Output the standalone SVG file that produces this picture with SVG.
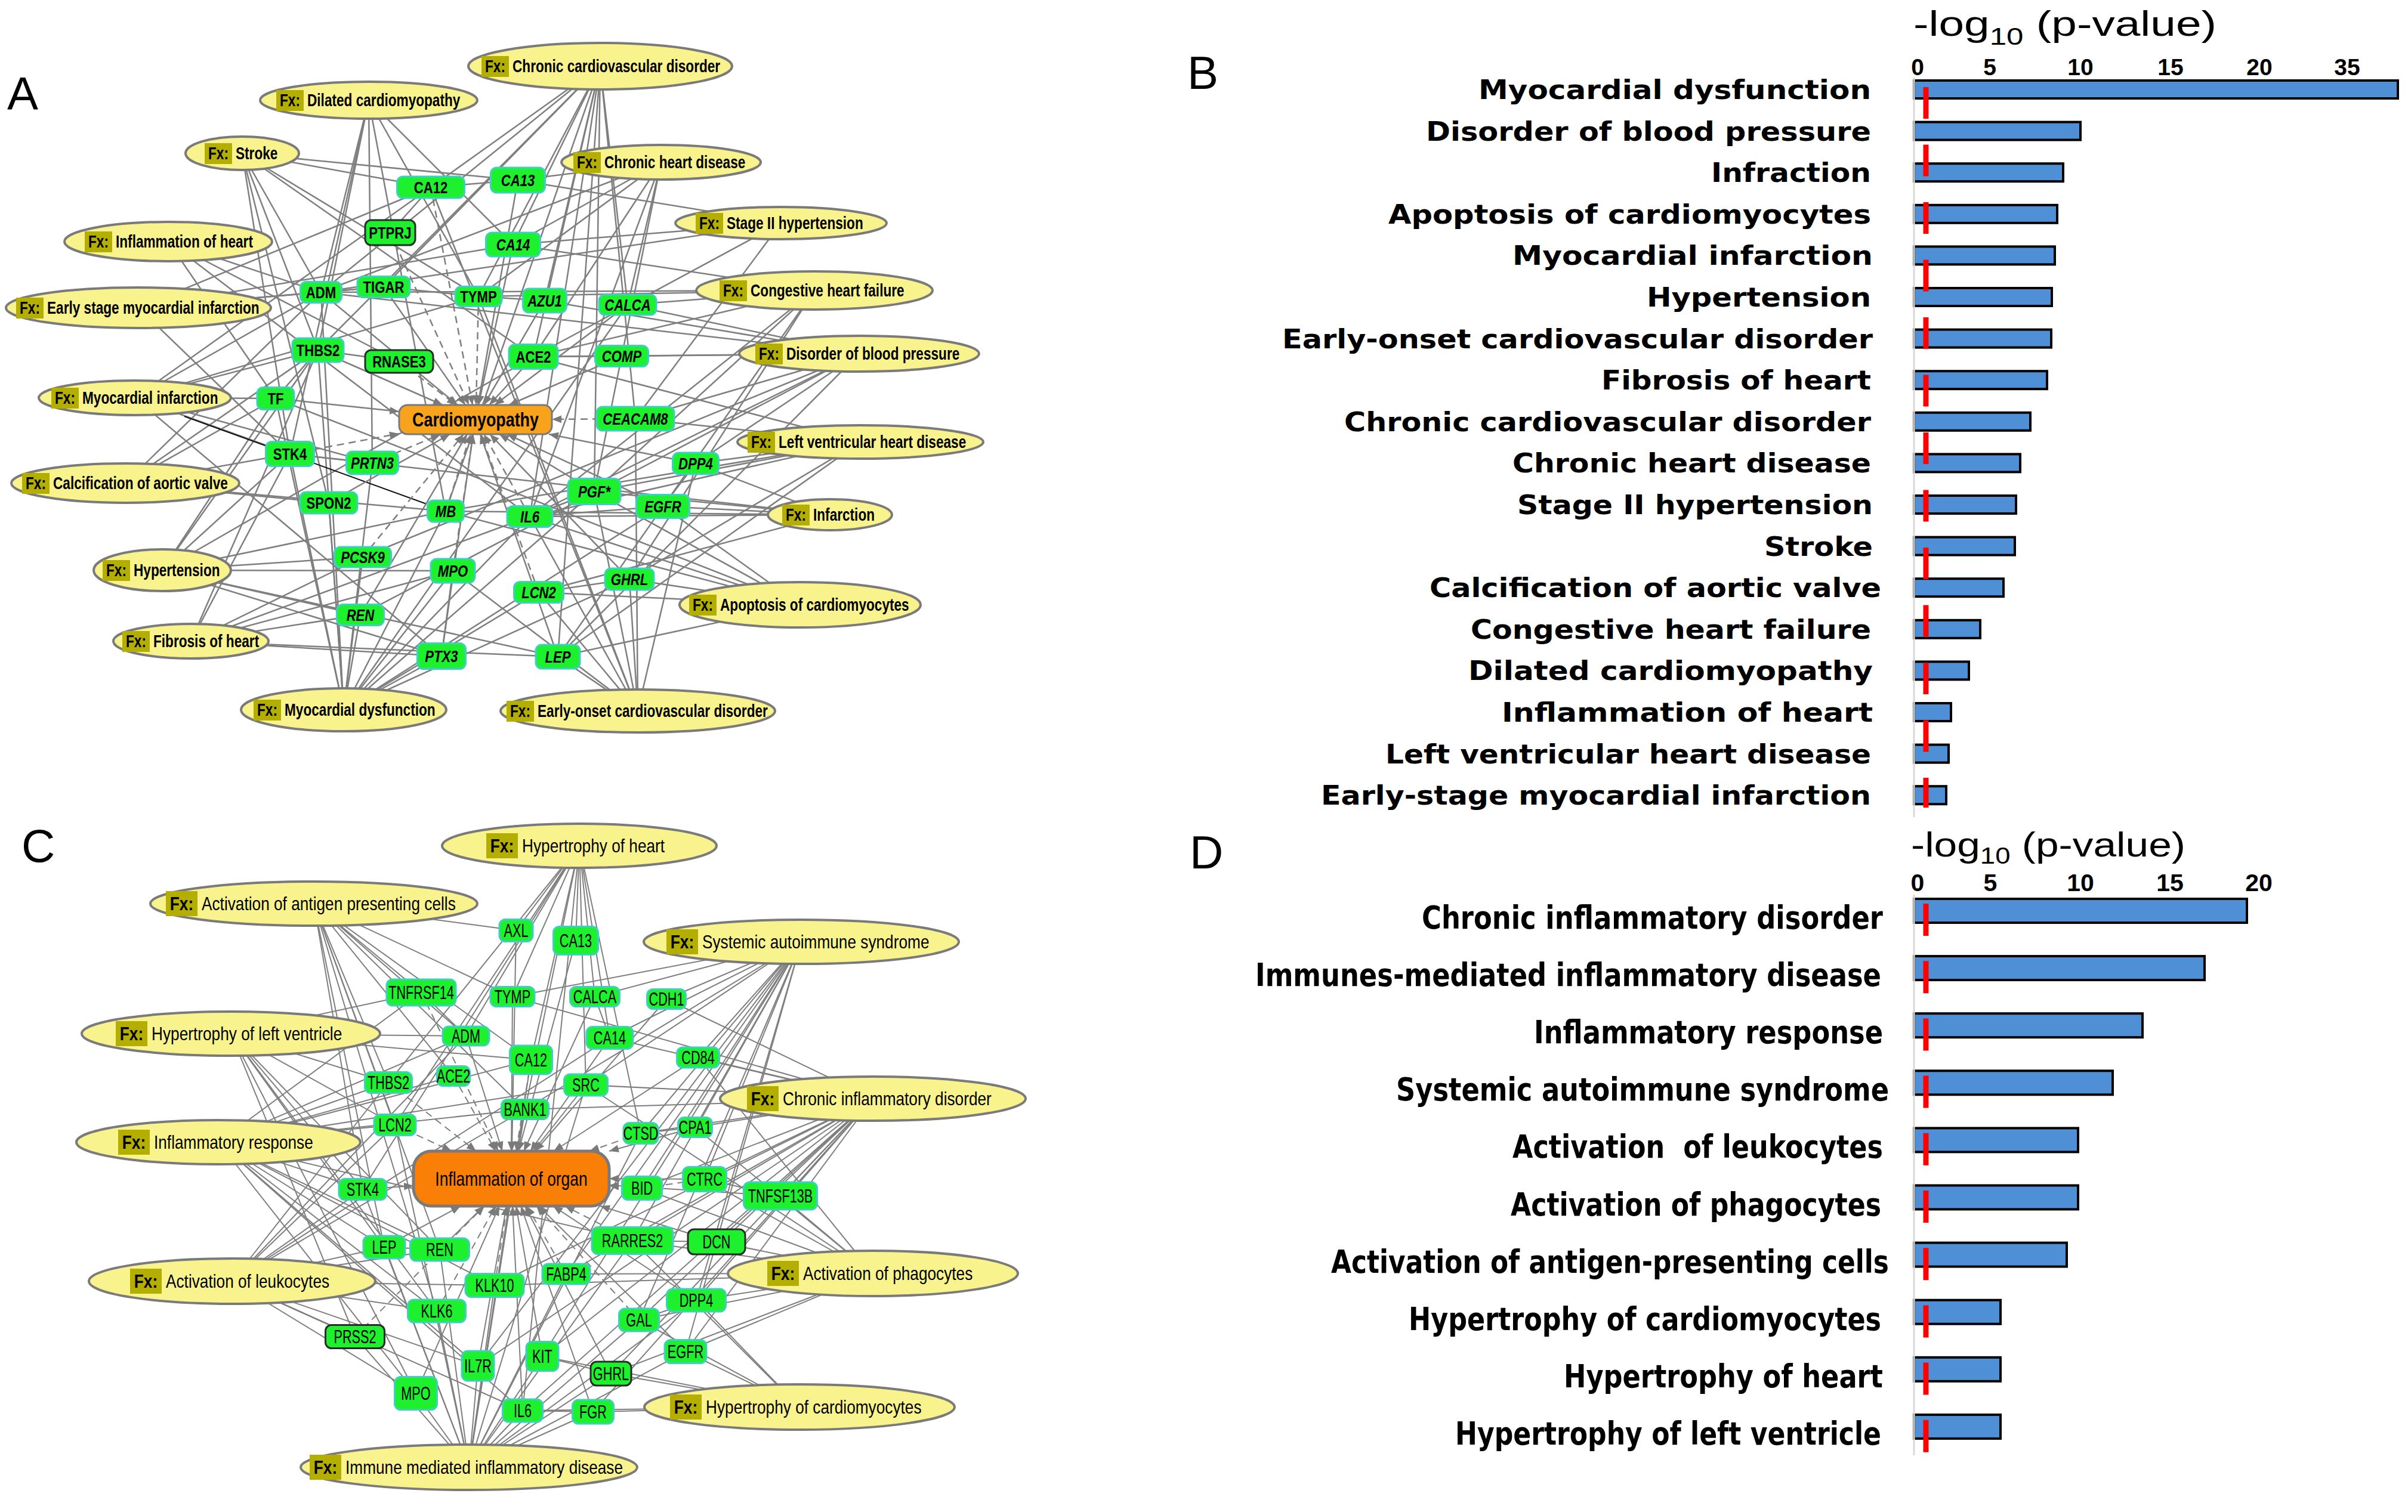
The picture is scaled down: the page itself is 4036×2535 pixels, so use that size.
<svg xmlns="http://www.w3.org/2000/svg" width="4036" height="2535" viewBox="0 0 4036 2535">
<style>
.ln line{stroke:#7f7f7f;stroke-width:2.5;fill:none}
.lc line{stroke:#7f7f7f;stroke-width:2;fill:none}
line.d{stroke-dasharray:12 8}
line.ar{marker-end:url(#ah)}
.fn ellipse{fill:#f8f38c;stroke:#7a7a7a;stroke-width:4}
.fx{fill:#b4ae00}
.gn rect{fill:#1df02d;stroke:#3fd0c0;stroke-width:3}
.gn rect.dk{stroke:#2a2a2a}
.ca rect{fill:#f9a31c;stroke:#7a7a7a;stroke-width:3}
.cc rect{fill:#f97f07;stroke:#7a7a7a;stroke-width:5}
text{font-family:'Liberation Sans',Arial,sans-serif;fill:#000}
text.a{font-weight:bold;font-size:28px;text-anchor:middle}
text.i{font-style:italic}
text.fa{font-weight:bold;font-size:29px}
text.xa{font-weight:bold;font-size:29px;text-anchor:middle}
text.c{font-size:31px;text-anchor:middle}
text.fc{font-size:32px}
text.xc{font-weight:bold;font-size:32px;text-anchor:middle}
text.ct{font-weight:bold;font-size:34px;text-anchor:middle}
text.co{font-size:33px;text-anchor:middle}
.bar{fill:#4e8fd6;stroke:#000;stroke-width:4}
text.lb{font-family:'DejaVu Sans',sans-serif;font-weight:bold;font-size:45px}
text.ld{font-family:'DejaVu Sans',sans-serif;font-weight:bold;font-size:54px}
text.tk{font-weight:bold;font-size:39px;text-anchor:middle}
text.tt{font-size:60px}
text.pl{font-size:78px}
.ax{stroke:#d9d9d9;stroke-width:3}
.rd{stroke:#ff0000;stroke-width:9}
</style>
<defs>
<marker id="ah" viewBox="0 0 10 10" refX="10" refY="5" markerWidth="16" markerHeight="16" markerUnits="userSpaceOnUse" orient="auto"><path d="M0,1 L10,5 L0,9 z" fill="#7a7a7a"/></marker>
</defs>
<rect width="4036" height="2535" fill="#fff"/>

<!-- ================= PANEL A ================= -->
<g id="panel-A">
<text class="pl" x="12" y="184">A</text>
<g id="A-connectors" class="ln">
<line x1="1006" y1="111" x2="722" y2="314"/><line x1="1006" y1="111" x2="860" y2="410"/><line x1="1006" y1="111" x2="802" y2="497"/><line x1="1006" y1="111" x2="913" y2="504"/><line x1="1006" y1="111" x2="1052" y2="511"/><line x1="1006" y1="111" x2="894" y2="598"/><line x1="1006" y1="111" x2="538" y2="490"/><line x1="1006" y1="111" x2="888" y2="866"/><line x1="1006" y1="111" x2="935" y2="1101"/><line x1="1006" y1="111" x2="996" y2="824"/><line x1="1006" y1="111" x2="1065" y2="702"/><line x1="1006" y1="111" x2="747" y2="857"/><line x1="1006" y1="111" x2="643" y2="481"/><line x1="1006" y1="111" x2="533" y2="587"/>
<line x1="618" y1="168" x2="538" y2="490"/><line x1="618" y1="168" x2="533" y2="587"/><line x1="618" y1="168" x2="486" y2="761"/><line x1="618" y1="168" x2="802" y2="497"/><line x1="618" y1="168" x2="860" y2="410"/><line x1="618" y1="168" x2="747" y2="857"/><line x1="618" y1="168" x2="624" y2="776"/>
<line x1="406" y1="257" x2="722" y2="314"/><line x1="406" y1="257" x2="868" y2="302"/><line x1="406" y1="257" x2="802" y2="497"/><line x1="406" y1="257" x2="538" y2="490"/><line x1="406" y1="257" x2="533" y2="587"/><line x1="406" y1="257" x2="486" y2="761"/><line x1="406" y1="257" x2="551" y2="843"/><line x1="406" y1="257" x2="894" y2="598"/>
<line x1="1108" y1="272" x2="868" y2="302"/><line x1="1108" y1="272" x2="860" y2="410"/><line x1="1108" y1="272" x2="894" y2="598"/><line x1="1108" y1="272" x2="1052" y2="511"/><line x1="1108" y1="272" x2="802" y2="497"/><line x1="1108" y1="272" x2="888" y2="866"/><line x1="1108" y1="272" x2="996" y2="824"/><line x1="1108" y1="272" x2="538" y2="490"/>
<line x1="1309" y1="374" x2="868" y2="302"/><line x1="1309" y1="374" x2="860" y2="410"/><line x1="1309" y1="374" x2="894" y2="598"/><line x1="1309" y1="374" x2="538" y2="490"/><line x1="1309" y1="374" x2="1065" y2="702"/>
<line x1="282" y1="405" x2="538" y2="490"/><line x1="282" y1="405" x2="669" y2="606"/><line x1="282" y1="405" x2="888" y2="866"/><line x1="282" y1="405" x2="462" y2="668"/>
<line x1="1365" y1="487" x2="802" y2="497"/><line x1="1365" y1="487" x2="860" y2="410"/><line x1="1365" y1="487" x2="888" y2="866"/><line x1="1365" y1="487" x2="538" y2="490"/><line x1="1365" y1="487" x2="935" y2="1101"/><line x1="1365" y1="487" x2="1052" y2="511"/><line x1="1365" y1="487" x2="894" y2="598"/><line x1="1365" y1="487" x2="996" y2="824"/><line x1="1365" y1="487" x2="1055" y2="971"/>
<line x1="232" y1="516" x2="538" y2="490"/><line x1="232" y1="516" x2="722" y2="314"/><line x1="232" y1="516" x2="643" y2="481"/><line x1="232" y1="516" x2="486" y2="761"/><line x1="232" y1="516" x2="860" y2="410"/>
<line x1="1440" y1="593" x2="1042" y2="597"/><line x1="1440" y1="593" x2="1052" y2="511"/><line x1="1440" y1="593" x2="894" y2="598"/><line x1="1440" y1="593" x2="1065" y2="702"/><line x1="1440" y1="593" x2="604" y2="1031"/><line x1="1440" y1="593" x2="935" y2="1101"/><line x1="1440" y1="593" x2="608" y2="934"/><line x1="1440" y1="593" x2="538" y2="490"/><line x1="1440" y1="593" x2="1166" y2="777"/><line x1="1440" y1="593" x2="913" y2="504"/><line x1="1440" y1="593" x2="888" y2="866"/>
<line x1="226" y1="667" x2="462" y2="668"/><line x1="226" y1="667" x2="486" y2="761"/><line x1="226" y1="667" x2="533" y2="587"/><line x1="226" y1="667" x2="538" y2="490"/><line x1="226" y1="667" x2="740" y2="1100"/><line x1="226" y1="667" x2="802" y2="497"/><line x1="226" y1="667" x2="722" y2="314"/><line x1="226" y1="667" x2="624" y2="776"/>
<line x1="1442" y1="741" x2="1065" y2="702"/><line x1="1442" y1="741" x2="1166" y2="777"/><line x1="1442" y1="741" x2="888" y2="866"/><line x1="1442" y1="741" x2="894" y2="598"/><line x1="1442" y1="741" x2="996" y2="824"/><line x1="1442" y1="741" x2="747" y2="857"/><line x1="1442" y1="741" x2="935" y2="1101"/><line x1="1442" y1="741" x2="1055" y2="971"/>
<line x1="210" y1="810" x2="486" y2="761"/><line x1="210" y1="810" x2="551" y2="843"/><line x1="210" y1="810" x2="747" y2="857"/><line x1="210" y1="810" x2="533" y2="587"/><line x1="210" y1="810" x2="538" y2="490"/><line x1="210" y1="810" x2="462" y2="668"/>
<line x1="1391" y1="863" x2="1111" y2="849"/><line x1="1391" y1="863" x2="1166" y2="777"/><line x1="1391" y1="863" x2="888" y2="866"/><line x1="1391" y1="863" x2="996" y2="824"/><line x1="1391" y1="863" x2="747" y2="857"/><line x1="1391" y1="863" x2="903" y2="993"/><line x1="1391" y1="863" x2="486" y2="761"/>
<line x1="272" y1="956" x2="608" y2="934"/><line x1="272" y1="956" x2="759" y2="957"/><line x1="272" y1="956" x2="604" y2="1031"/><line x1="272" y1="956" x2="747" y2="857"/><line x1="272" y1="956" x2="935" y2="1101"/><line x1="272" y1="956" x2="894" y2="598"/><line x1="272" y1="956" x2="740" y2="1100"/><line x1="272" y1="956" x2="486" y2="761"/><line x1="272" y1="956" x2="533" y2="587"/><line x1="272" y1="956" x2="462" y2="668"/>
<line x1="1341" y1="1014" x2="1055" y2="971"/><line x1="1341" y1="1014" x2="903" y2="993"/><line x1="1341" y1="1014" x2="888" y2="866"/><line x1="1341" y1="1014" x2="1111" y2="849"/><line x1="1341" y1="1014" x2="996" y2="824"/><line x1="1341" y1="1014" x2="935" y2="1101"/><line x1="1341" y1="1014" x2="747" y2="857"/><line x1="1341" y1="1014" x2="462" y2="668"/>
<line x1="320" y1="1075" x2="604" y2="1031"/><line x1="320" y1="1075" x2="740" y2="1100"/><line x1="320" y1="1075" x2="759" y2="957"/><line x1="320" y1="1075" x2="935" y2="1101"/><line x1="320" y1="1075" x2="608" y2="934"/><line x1="320" y1="1075" x2="486" y2="761"/><line x1="320" y1="1075" x2="533" y2="587"/><line x1="320" y1="1075" x2="888" y2="866"/>
<line x1="576" y1="1190" x2="538" y2="490"/><line x1="576" y1="1190" x2="533" y2="587"/><line x1="576" y1="1190" x2="486" y2="761"/><line x1="576" y1="1190" x2="551" y2="843"/><line x1="576" y1="1190" x2="608" y2="934"/><line x1="576" y1="1190" x2="604" y2="1031"/><line x1="576" y1="1190" x2="759" y2="957"/><line x1="576" y1="1190" x2="740" y2="1100"/><line x1="576" y1="1190" x2="747" y2="857"/><line x1="576" y1="1190" x2="888" y2="866"/><line x1="576" y1="1190" x2="996" y2="824"/><line x1="576" y1="1190" x2="903" y2="993"/><line x1="576" y1="1190" x2="462" y2="668"/><line x1="576" y1="1190" x2="1052" y2="511"/><line x1="576" y1="1190" x2="1055" y2="971"/><line x1="576" y1="1190" x2="1111" y2="849"/><line x1="576" y1="1190" x2="624" y2="776"/>
<line x1="1069" y1="1192" x2="935" y2="1101"/><line x1="1069" y1="1192" x2="1055" y2="971"/><line x1="1069" y1="1192" x2="888" y2="866"/><line x1="1069" y1="1192" x2="903" y2="993"/><line x1="1069" y1="1192" x2="996" y2="824"/><line x1="1069" y1="1192" x2="759" y2="957"/><line x1="1069" y1="1192" x2="722" y2="314"/><line x1="1069" y1="1192" x2="1166" y2="777"/><line x1="1069" y1="1192" x2="802" y2="497"/><line x1="1069" y1="1192" x2="1065" y2="702"/>
<line x1="722" y1="314" x2="868" y2="302"/><line x1="538" y1="490" x2="643" y2="481"/><line x1="643" y1="481" x2="802" y2="497"/><line x1="894" y1="598" x2="1042" y2="597"/><line x1="533" y1="587" x2="669" y2="606"/><line x1="888" y1="866" x2="1111" y2="849"/><line x1="888" y1="866" x2="996" y2="824"/><line x1="486" y1="761" x2="624" y2="776"/><line x1="740" y1="1100" x2="759" y2="957"/><line x1="903" y1="993" x2="1055" y2="971"/><line x1="462" y1="668" x2="533" y2="587"/><line x1="1166" y1="777" x2="1111" y2="849"/><line x1="722" y1="314" x2="654" y2="390"/><line x1="802" y1="497" x2="913" y2="504"/>
<line x1="309" y1="698" x2="715" y2="845" style="stroke:#111;stroke-width:2"/>
<line class="ar d" x1="722" y1="314" x2="792" y2="679"/><line class="ar" x1="868" y1="302" x2="801" y2="679"/><line class="ar" x1="860" y1="410" x2="802" y2="679"/><line class="ar d" x1="654" y1="390" x2="786" y2="679"/><line class="ar" x1="538" y1="490" x2="767" y2="679"/><line class="ar" x1="643" y1="481" x2="780" y2="679"/><line class="ar d" x1="802" y1="497" x2="798" y2="679"/><line class="ar" x1="913" y1="504" x2="811" y2="679"/><line class="ar" x1="1052" y1="511" x2="829" y2="679"/><line class="ar" x1="533" y1="587" x2="742" y2="679"/><line class="ar d" x1="669" y1="606" x2="765" y2="679"/><line class="ar" x1="894" y1="598" x2="820" y2="679"/><line class="ar" x1="1042" y1="597" x2="853" y2="679"/><line class="ar" x1="462" y1="668" x2="669" y2="690"/><line class="ar d" x1="486" y1="761" x2="669" y2="727"/><line class="ar d" x1="624" y1="776" x2="739" y2="728"/><line class="ar" x1="551" y1="843" x2="754" y2="728"/><line class="ar d" x1="747" y1="857" x2="789" y2="728"/><line class="ar d" x1="608" y1="934" x2="777" y2="728"/><line class="ar d" x1="759" y1="957" x2="793" y2="728"/><line class="ar" x1="604" y1="1031" x2="783" y2="728"/><line class="ar" x1="740" y1="1100" x2="793" y2="728"/><line class="ar d" x1="1065" y1="702" x2="925" y2="703"/><line class="ar" x1="1166" y1="777" x2="920" y2="728"/><line class="ar" x1="996" y1="824" x2="837" y2="728"/><line class="ar" x1="1111" y1="849" x2="850" y2="728"/><line class="ar d" x1="888" y1="866" x2="811" y2="728"/><line class="ar" x1="1055" y1="971" x2="821" y2="728"/><line class="ar d" x1="903" y1="993" x2="806" y2="728"/><line class="ar" x1="935" y1="1101" x2="805" y2="728"/>
</g>
<g id="A-functions">
<g id="A-fn-ccd" class="fn"><ellipse cx="1006" cy="111" rx="221" ry="39"/><rect class="fx" x="807" y="94" width="46" height="35"/><text class="xa" transform="translate(830 121) scale(.78 1)">Fx:</text><text class="fa" transform="translate(859 121) scale(.78 1)">Chronic cardiovascular disorder</text></g>
<g id="A-fn-dc" class="fn"><ellipse cx="618" cy="168" rx="182" ry="31"/><rect class="fx" x="463" y="151" width="46" height="35"/><text class="xa" transform="translate(486 178) scale(.78 1)">Fx:</text><text class="fa" transform="translate(515 178) scale(.78 1)">Dilated cardiomyopathy</text></g>
<g id="A-fn-stroke" class="fn"><ellipse cx="406" cy="257" rx="95" ry="28"/><rect class="fx" x="343" y="240" width="46" height="35"/><text class="xa" transform="translate(366 267) scale(.78 1)">Fx:</text><text class="fa" transform="translate(395 267) scale(.78 1)">Stroke</text></g>
<g id="A-fn-chd" class="fn"><ellipse cx="1108" cy="272" rx="167" ry="29"/><rect class="fx" x="961" y="255" width="46" height="35"/><text class="xa" transform="translate(984 282) scale(.78 1)">Fx:</text><text class="fa" transform="translate(1013 282) scale(.78 1)">Chronic heart disease</text></g>
<g id="A-fn-s2" class="fn"><ellipse cx="1309" cy="374" rx="177" ry="27"/><rect class="fx" x="1166" y="357" width="46" height="35"/><text class="xa" transform="translate(1189 384) scale(.78 1)">Fx:</text><text class="fa" transform="translate(1218 384) scale(.78 1)">Stage II hypertension</text></g>
<g id="A-fn-ih" class="fn"><ellipse cx="282" cy="405" rx="174" ry="33"/><rect class="fx" x="142" y="388" width="46" height="35"/><text class="xa" transform="translate(165 415) scale(.78 1)">Fx:</text><text class="fa" transform="translate(194 415) scale(.78 1)">Inflammation of heart</text></g>
<g id="A-fn-chf" class="fn"><ellipse cx="1365" cy="487" rx="198" ry="32"/><rect class="fx" x="1206" y="470" width="46" height="35"/><text class="xa" transform="translate(1229 497) scale(.78 1)">Fx:</text><text class="fa" transform="translate(1258 497) scale(.78 1)">Congestive heart failure</text></g>
<g id="A-fn-esmi" class="fn"><ellipse cx="232" cy="516" rx="222" ry="34"/><rect class="fx" x="27" y="499" width="46" height="35"/><text class="xa" transform="translate(50 526) scale(.78 1)">Fx:</text><text class="fa" transform="translate(79 526) scale(.78 1)">Early stage myocardial infarction</text></g>
<g id="A-fn-dbp" class="fn"><ellipse cx="1440" cy="593" rx="201" ry="30"/><rect class="fx" x="1266" y="576" width="46" height="35"/><text class="xa" transform="translate(1289 603) scale(.78 1)">Fx:</text><text class="fa" transform="translate(1318 603) scale(.78 1)">Disorder of blood pressure</text></g>
<g id="A-fn-mi" class="fn"><ellipse cx="226" cy="667" rx="161" ry="29"/><rect class="fx" x="86" y="650" width="46" height="35"/><text class="xa" transform="translate(109 677) scale(.78 1)">Fx:</text><text class="fa" transform="translate(138 677) scale(.78 1)">Myocardial infarction</text></g>
<g id="A-fn-lvhd" class="fn"><ellipse cx="1442" cy="741" rx="206" ry="28"/><rect class="fx" x="1253" y="724" width="46" height="35"/><text class="xa" transform="translate(1276 751) scale(.78 1)">Fx:</text><text class="fa" transform="translate(1305 751) scale(.78 1)">Left ventricular heart disease</text></g>
<g id="A-fn-cav" class="fn"><ellipse cx="210" cy="810" rx="191" ry="33"/><rect class="fx" x="37" y="793" width="46" height="35"/><text class="xa" transform="translate(60 820) scale(.78 1)">Fx:</text><text class="fa" transform="translate(89 820) scale(.78 1)">Calcification of aortic valve</text></g>
<g id="A-fn-inf" class="fn"><ellipse cx="1391" cy="863" rx="104" ry="26"/><rect class="fx" x="1311" y="846" width="46" height="35"/><text class="xa" transform="translate(1334 873) scale(.78 1)">Fx:</text><text class="fa" transform="translate(1363 873) scale(.78 1)">Infarction</text></g>
<g id="A-fn-ht" class="fn"><ellipse cx="272" cy="956" rx="115" ry="35"/><rect class="fx" x="172" y="939" width="46" height="35"/><text class="xa" transform="translate(195 966) scale(.78 1)">Fx:</text><text class="fa" transform="translate(224 966) scale(.78 1)">Hypertension</text></g>
<g id="A-fn-ac" class="fn"><ellipse cx="1341" cy="1014" rx="202" ry="38"/><rect class="fx" x="1155" y="997" width="46" height="35"/><text class="xa" transform="translate(1178 1024) scale(.78 1)">Fx:</text><text class="fa" transform="translate(1207 1024) scale(.78 1)">Apoptosis of cardiomyocytes</text></g>
<g id="A-fn-fh" class="fn"><ellipse cx="320" cy="1075" rx="130" ry="29"/><rect class="fx" x="205" y="1058" width="46" height="35"/><text class="xa" transform="translate(228 1085) scale(.78 1)">Fx:</text><text class="fa" transform="translate(257 1085) scale(.78 1)">Fibrosis of heart</text></g>
<g id="A-fn-md" class="fn"><ellipse cx="576" cy="1190" rx="172" ry="36"/><rect class="fx" x="425" y="1173" width="46" height="35"/><text class="xa" transform="translate(448 1200) scale(.78 1)">Fx:</text><text class="fa" transform="translate(477 1200) scale(.78 1)">Myocardial dysfunction</text></g>
<g id="A-fn-eocd" class="fn"><ellipse cx="1069" cy="1192" rx="230" ry="36"/><rect class="fx" x="849" y="1175" width="46" height="35"/><text class="xa" transform="translate(872 1202) scale(.78 1)">Fx:</text><text class="fa" transform="translate(901 1202) scale(.78 1)">Early-onset cardiovascular disorder</text></g>
</g>
<g id="A-genes">
<g id="A-CA12" class="gn"><rect x="665.5" y="296" width="113" height="36" rx="10"/><text class="a" transform="translate(722 324) scale(.79 1)">CA12</text></g>
<g id="A-CA13" class="gn"><rect x="822.5" y="281" width="91" height="42" rx="10"/><text class="a i" transform="translate(868 312) scale(.79 1)">CA13</text></g>
<g id="A-CA14" class="gn"><rect x="814.5" y="390" width="91" height="40" rx="10"/><text class="a i" transform="translate(860 420) scale(.79 1)">CA14</text></g>
<g id="A-PTPRJ" class="gn"><rect class="dk" x="612" y="369" width="84" height="42" rx="10"/><text class="a" transform="translate(654 400) scale(.79 1)">PTPRJ</text></g>
<g id="A-ADM" class="gn"><rect x="503.5" y="472.5" width="69" height="35" rx="10"/><text class="a" transform="translate(538 500) scale(.79 1)">ADM</text></g>
<g id="A-TIGAR" class="gn"><rect x="599" y="463.5" width="88" height="35" rx="10"/><text class="a" transform="translate(643 491) scale(.79 1)">TIGAR</text></g>
<g id="A-TYMP" class="gn"><rect x="763" y="480.5" width="78" height="33" rx="10"/><text class="a" transform="translate(802 507) scale(.79 1)">TYMP</text></g>
<g id="A-AZU1" class="gn"><rect x="876.5" y="484" width="73" height="40" rx="10"/><text class="a i" transform="translate(913 514) scale(.79 1)">AZU1</text></g>
<g id="A-CALCA" class="gn"><rect x="1004" y="494" width="96" height="34" rx="10"/><text class="a i" transform="translate(1052 521) scale(.79 1)">CALCA</text></g>
<g id="A-THBS2" class="gn"><rect x="490" y="567" width="86" height="40" rx="10"/><text class="a" transform="translate(533 597) scale(.79 1)">THBS2</text></g>
<g id="A-RNASE3" class="gn"><rect class="dk" x="612" y="587" width="114" height="38" rx="10"/><text class="a" transform="translate(669 616) scale(.79 1)">RNASE3</text></g>
<g id="A-ACE2" class="gn"><rect x="853" y="577.5" width="82" height="41" rx="10"/><text class="a" transform="translate(894 608) scale(.79 1)">ACE2</text></g>
<g id="A-COMP" class="gn"><rect x="997.5" y="579.5" width="89" height="35" rx="10"/><text class="a i" transform="translate(1042 607) scale(.79 1)">COMP</text></g>
<g id="A-TF" class="gn"><rect x="431" y="649.5" width="62" height="37" rx="10"/><text class="a" transform="translate(462 678) scale(.79 1)">TF</text></g>
<g id="A-STK4" class="gn"><rect x="445.5" y="740.5" width="81" height="41" rx="10"/><text class="a" transform="translate(486 771) scale(.79 1)">STK4</text></g>
<g id="A-PRTN3" class="gn"><rect x="580.5" y="757" width="87" height="38" rx="10"/><text class="a i" transform="translate(624 786) scale(.79 1)">PRTN3</text></g>
<g id="A-SPON2" class="gn"><rect x="503" y="825" width="96" height="36" rx="10"/><text class="a" transform="translate(551 853) scale(.79 1)">SPON2</text></g>
<g id="A-MB" class="gn"><rect x="716.5" y="839" width="61" height="36" rx="10"/><text class="a i" transform="translate(747 867) scale(.79 1)">MB</text></g>
<g id="A-PCSK9" class="gn"><rect x="560.5" y="917" width="95" height="34" rx="10"/><text class="a i" transform="translate(608 944) scale(.79 1)">PCSK9</text></g>
<g id="A-MPO" class="gn"><rect x="722" y="937" width="74" height="40" rx="10"/><text class="a i" transform="translate(759 967) scale(.79 1)">MPO</text></g>
<g id="A-REN" class="gn"><rect x="564.5" y="1013.5" width="79" height="35" rx="10"/><text class="a i" transform="translate(604 1041) scale(.79 1)">REN</text></g>
<g id="A-PTX3" class="gn"><rect x="699.5" y="1078.5" width="81" height="43" rx="10"/><text class="a i" transform="translate(740 1110) scale(.79 1)">PTX3</text></g>
<g id="A-CEACAM8" class="gn"><rect x="1000" y="682" width="130" height="40" rx="10"/><text class="a i" transform="translate(1065 712) scale(.79 1)">CEACAM8</text></g>
<g id="A-DPP4" class="gn"><rect x="1127.5" y="759" width="77" height="36" rx="10"/><text class="a i" transform="translate(1166 787) scale(.79 1)">DPP4</text></g>
<g id="A-PGF" class="gn"><rect x="952" y="802.5" width="88" height="43" rx="10"/><text class="a i" transform="translate(996 834) scale(.79 1)">PGF*</text></g>
<g id="A-EGFR" class="gn"><rect x="1066.5" y="829.5" width="89" height="39" rx="10"/><text class="a i" transform="translate(1111 859) scale(.79 1)">EGFR</text></g>
<g id="A-IL6" class="gn"><rect x="850" y="848.5" width="76" height="35" rx="10"/><text class="a i" transform="translate(888 876) scale(.79 1)">IL6</text></g>
<g id="A-GHRL" class="gn"><rect x="1014" y="953" width="82" height="36" rx="10"/><text class="a i" transform="translate(1055 981) scale(.79 1)">GHRL</text></g>
<g id="A-LCN2" class="gn"><rect x="861.5" y="975.5" width="83" height="35" rx="10"/><text class="a i" transform="translate(903 1003) scale(.79 1)">LCN2</text></g>
<g id="A-LEP" class="gn"><rect x="898" y="1081" width="74" height="40" rx="10"/><text class="a i" transform="translate(935 1111) scale(.79 1)">LEP</text></g>
</g>
<g id="A-Cardiomyopathy" class="ca"><rect x="669" y="679" width="256" height="49" rx="14"/><text class="ct" transform="translate(797 715) scale(.79 1)">Cardiomyopathy</text></g>
</g>

<!-- ================= PANEL C ================= -->
<g id="panel-C">
<text class="pl" x="36" y="1445">C</text>
<g id="C-connectors" class="lc">
<line x1="971" y1="1418" x2="865" y2="1560"/><line x1="971" y1="1418" x2="965" y2="1577"/><line x1="971" y1="1418" x2="997" y2="1671"/><line x1="971" y1="1418" x2="1022" y2="1740"/><line x1="971" y1="1418" x2="859" y2="1671"/><line x1="971" y1="1418" x2="781" y2="1737"/><line x1="971" y1="1418" x2="890" y2="1777"/><line x1="971" y1="1418" x2="982" y2="1819"/><line x1="971" y1="1418" x2="880" y2="1860"/><line x1="971" y1="1418" x2="608" y2="1994"/><line x1="971" y1="1418" x2="662" y2="1886"/><line x1="971" y1="1418" x2="651" y2="1815"/><line x1="971" y1="1418" x2="1074" y2="1900"/><line x1="971" y1="1418" x2="876" y2="2365"/>
<line x1="526" y1="1515" x2="865" y2="1560"/><line x1="526" y1="1515" x2="706" y2="1664"/><line x1="526" y1="1515" x2="859" y2="1671"/><line x1="526" y1="1515" x2="781" y2="1737"/><line x1="526" y1="1515" x2="651" y2="1815"/><line x1="526" y1="1515" x2="760" y2="1804"/><line x1="526" y1="1515" x2="662" y2="1886"/><line x1="526" y1="1515" x2="608" y2="1994"/><line x1="526" y1="1515" x2="644" y2="2091"/><line x1="526" y1="1515" x2="737" y2="2095"/><line x1="526" y1="1515" x2="732" y2="2198"/><line x1="526" y1="1515" x2="890" y2="1777"/><line x1="526" y1="1515" x2="880" y2="1860"/>
<line x1="1343" y1="1579" x2="859" y2="1671"/><line x1="1343" y1="1579" x2="997" y2="1671"/><line x1="1343" y1="1579" x2="1117" y2="1675"/><line x1="1343" y1="1579" x2="1022" y2="1740"/><line x1="1343" y1="1579" x2="1170" y2="1773"/><line x1="1343" y1="1579" x2="982" y2="1819"/><line x1="1343" y1="1579" x2="1074" y2="1900"/><line x1="1343" y1="1579" x2="1165" y2="1890"/><line x1="1343" y1="1579" x2="1076" y2="1992"/><line x1="1343" y1="1579" x2="1181" y2="1977"/><line x1="1343" y1="1579" x2="1060" y2="2080"/><line x1="1343" y1="1579" x2="949" y2="2136"/><line x1="1343" y1="1579" x2="1167" y2="2180"/><line x1="1343" y1="1579" x2="1071" y2="2213"/><line x1="1343" y1="1579" x2="1149" y2="2266"/><line x1="1343" y1="1579" x2="801" y2="2290"/><line x1="1343" y1="1579" x2="909" y2="2274"/><line x1="1343" y1="1579" x2="880" y2="1860"/>
<line x1="387" y1="1733" x2="706" y2="1664"/><line x1="387" y1="1733" x2="781" y2="1737"/><line x1="387" y1="1733" x2="651" y2="1815"/><line x1="387" y1="1733" x2="662" y2="1886"/><line x1="387" y1="1733" x2="608" y2="1994"/><line x1="387" y1="1733" x2="644" y2="2091"/><line x1="387" y1="1733" x2="737" y2="2095"/><line x1="387" y1="1733" x2="595" y2="2241"/><line x1="387" y1="1733" x2="732" y2="2198"/><line x1="387" y1="1733" x2="697" y2="2336"/><line x1="387" y1="1733" x2="890" y2="1777"/>
<line x1="1463" y1="1842" x2="1170" y2="1773"/><line x1="1463" y1="1842" x2="1117" y2="1675"/><line x1="1463" y1="1842" x2="1022" y2="1740"/><line x1="1463" y1="1842" x2="982" y2="1819"/><line x1="1463" y1="1842" x2="880" y2="1860"/><line x1="1463" y1="1842" x2="1074" y2="1900"/><line x1="1463" y1="1842" x2="1165" y2="1890"/><line x1="1463" y1="1842" x2="1076" y2="1992"/><line x1="1463" y1="1842" x2="1181" y2="1977"/><line x1="1463" y1="1842" x2="1308" y2="2005"/><line x1="1463" y1="1842" x2="1060" y2="2080"/><line x1="1463" y1="1842" x2="1201" y2="2082"/><line x1="1463" y1="1842" x2="949" y2="2136"/><line x1="1463" y1="1842" x2="1167" y2="2180"/><line x1="1463" y1="1842" x2="1071" y2="2213"/><line x1="1463" y1="1842" x2="1149" y2="2266"/><line x1="1463" y1="1842" x2="1024" y2="2303"/><line x1="1463" y1="1842" x2="909" y2="2274"/><line x1="1463" y1="1842" x2="876" y2="2365"/><line x1="1463" y1="1842" x2="994" y2="2367"/><line x1="1463" y1="1842" x2="829" y2="2155"/><line x1="1463" y1="1842" x2="801" y2="2290"/><line x1="1463" y1="1842" x2="859" y2="1671"/>
<line x1="366" y1="1915" x2="651" y2="1815"/><line x1="366" y1="1915" x2="760" y2="1804"/><line x1="366" y1="1915" x2="781" y2="1737"/><line x1="366" y1="1915" x2="662" y2="1886"/><line x1="366" y1="1915" x2="608" y2="1994"/><line x1="366" y1="1915" x2="644" y2="2091"/><line x1="366" y1="1915" x2="737" y2="2095"/><line x1="366" y1="1915" x2="829" y2="2155"/><line x1="366" y1="1915" x2="732" y2="2198"/><line x1="366" y1="1915" x2="890" y2="1777"/><line x1="366" y1="1915" x2="880" y2="1860"/><line x1="366" y1="1915" x2="706" y2="1664"/><line x1="366" y1="1915" x2="982" y2="1819"/><line x1="366" y1="1915" x2="801" y2="2290"/><line x1="366" y1="1915" x2="697" y2="2336"/><line x1="366" y1="1915" x2="876" y2="2365"/><line x1="366" y1="1915" x2="1060" y2="2080"/>
<line x1="389" y1="2148" x2="608" y2="1994"/><line x1="389" y1="2148" x2="644" y2="2091"/><line x1="389" y1="2148" x2="737" y2="2095"/><line x1="389" y1="2148" x2="829" y2="2155"/><line x1="389" y1="2148" x2="732" y2="2198"/><line x1="389" y1="2148" x2="595" y2="2241"/><line x1="389" y1="2148" x2="697" y2="2336"/><line x1="389" y1="2148" x2="662" y2="1886"/><line x1="389" y1="2148" x2="651" y2="1815"/><line x1="389" y1="2148" x2="781" y2="1737"/><line x1="389" y1="2148" x2="801" y2="2290"/><line x1="389" y1="2148" x2="1022" y2="1740"/><line x1="389" y1="2148" x2="880" y2="1860"/><line x1="389" y1="2148" x2="876" y2="2365"/>
<line x1="1463" y1="2135" x2="1308" y2="2005"/><line x1="1463" y1="2135" x2="1201" y2="2082"/><line x1="1463" y1="2135" x2="1060" y2="2080"/><line x1="1463" y1="2135" x2="1167" y2="2180"/><line x1="1463" y1="2135" x2="1071" y2="2213"/><line x1="1463" y1="2135" x2="1149" y2="2266"/><line x1="1463" y1="2135" x2="1181" y2="1977"/><line x1="1463" y1="2135" x2="1076" y2="1992"/><line x1="1463" y1="2135" x2="949" y2="2136"/><line x1="1463" y1="2135" x2="1165" y2="1890"/><line x1="1463" y1="2135" x2="1170" y2="1773"/><line x1="1463" y1="2135" x2="982" y2="1819"/><line x1="1463" y1="2135" x2="829" y2="2155"/><line x1="1463" y1="2135" x2="1024" y2="2303"/>
<line x1="1340" y1="2359" x2="994" y2="2367"/><line x1="1340" y1="2359" x2="1149" y2="2266"/><line x1="1340" y1="2359" x2="1024" y2="2303"/><line x1="1340" y1="2359" x2="1167" y2="2180"/><line x1="1340" y1="2359" x2="1071" y2="2213"/><line x1="1340" y1="2359" x2="909" y2="2274"/><line x1="1340" y1="2359" x2="1060" y2="2080"/><line x1="1340" y1="2359" x2="876" y2="2365"/>
<line x1="786" y1="2460" x2="697" y2="2336"/><line x1="786" y1="2460" x2="876" y2="2365"/><line x1="786" y1="2460" x2="801" y2="2290"/><line x1="786" y1="2460" x2="909" y2="2274"/><line x1="786" y1="2460" x2="994" y2="2367"/><line x1="786" y1="2460" x2="1024" y2="2303"/><line x1="786" y1="2460" x2="732" y2="2198"/><line x1="786" y1="2460" x2="595" y2="2241"/><line x1="786" y1="2460" x2="829" y2="2155"/><line x1="786" y1="2460" x2="737" y2="2095"/><line x1="786" y1="2460" x2="644" y2="2091"/><line x1="786" y1="2460" x2="949" y2="2136"/><line x1="786" y1="2460" x2="1060" y2="2080"/><line x1="786" y1="2460" x2="1071" y2="2213"/><line x1="786" y1="2460" x2="1149" y2="2266"/><line x1="786" y1="2460" x2="1167" y2="2180"/><line x1="786" y1="2460" x2="890" y2="1777"/><line x1="786" y1="2460" x2="982" y2="1819"/><line x1="786" y1="2460" x2="880" y2="1860"/><line x1="786" y1="2460" x2="608" y2="1994"/><line x1="786" y1="2460" x2="662" y2="1886"/><line x1="786" y1="2460" x2="1074" y2="1900"/>
<line x1="644" y1="2091" x2="737" y2="2095"/><line class="d" x1="1076" y1="1992" x2="1181" y2="1977"/><line x1="1060" y1="2080" x2="1201" y2="2082"/><line x1="876" y1="2365" x2="994" y2="2367"/><line x1="1074" y1="1900" x2="1165" y2="1890"/><line x1="706" y1="1664" x2="781" y2="1737"/><line x1="997" y1="1671" x2="1022" y2="1740"/><line x1="909" y1="2274" x2="1024" y2="2303"/><line x1="1071" y1="2213" x2="1167" y2="2180"/><line x1="1181" y1="1977" x2="1308" y2="2005"/>
<line class="ar" x1="865" y1="1560" x2="858" y2="1930"/><line class="ar" x1="965" y1="1577" x2="869" y2="1930"/><line class="ar d" x1="706" y1="1664" x2="835" y2="1930"/><line class="ar" x1="859" y1="1671" x2="857" y2="1930"/><line class="ar" x1="997" y1="1671" x2="878" y2="1930"/><line class="ar" x1="1117" y1="1675" x2="897" y2="1930"/><line class="ar" x1="781" y1="1737" x2="842" y2="1930"/><line class="ar" x1="1022" y1="1740" x2="889" y2="1930"/><line class="ar d" x1="890" y1="1777" x2="865" y2="1930"/><line class="ar" x1="1170" y1="1773" x2="928" y2="1930"/><line class="ar d" x1="760" y1="1804" x2="831" y2="1930"/><line class="ar d" x1="651" y1="1815" x2="798" y2="1930"/><line class="ar" x1="982" y1="1819" x2="894" y2="1930"/><line class="ar" x1="880" y1="1860" x2="866" y2="1930"/><line class="ar d" x1="662" y1="1886" x2="757" y2="1930"/><line class="ar d" x1="1074" y1="1900" x2="988" y2="1930"/><line class="ar" x1="1165" y1="1890" x2="1021" y2="1930"/><line class="ar" x1="608" y1="1994" x2="693" y2="1988"/><line class="ar d" x1="1076" y1="1992" x2="1021" y2="1988"/><line class="ar" x1="1181" y1="1977" x2="1021" y2="1976"/><line class="ar" x1="1308" y1="2005" x2="1021" y2="1987"/><line class="ar d" x1="1060" y1="2080" x2="947" y2="2022"/><line class="ar" x1="1201" y1="2082" x2="1006" y2="2022"/><line class="ar" x1="644" y1="2091" x2="772" y2="2022"/><line class="ar" x1="737" y1="2095" x2="811" y2="2022"/><line class="ar d" x1="949" y1="2136" x2="883" y2="2022"/><line class="ar d" x1="829" y1="2155" x2="850" y2="2022"/><line class="ar" x1="1167" y1="2180" x2="927" y2="2022"/><line class="ar d" x1="732" y1="2198" x2="831" y2="2022"/><line class="ar d" x1="1071" y1="2213" x2="899" y2="2022"/><line class="ar d" x1="595" y1="2241" x2="812" y2="2022"/><line class="ar" x1="1149" y1="2266" x2="903" y2="2022"/><line class="ar" x1="909" y1="2274" x2="865" y2="2022"/><line class="ar" x1="1024" y1="2303" x2="880" y2="2022"/><line class="ar" x1="801" y1="2290" x2="849" y2="2022"/><line class="ar" x1="697" y1="2336" x2="837" y2="2022"/><line class="ar" x1="876" y1="2365" x2="859" y2="2022"/><line class="ar" x1="994" y1="2367" x2="873" y2="2022"/>
</g>
<g id="C-functions">
<g id="C-fn-hh" class="fn"><ellipse cx="971" cy="1418" rx="230" ry="37"/><rect class="fx" x="815" y="1397" width="53" height="42"/><text class="xc" transform="translate(841.5 1429) scale(.82 1)">Fx:</text><text class="fc" transform="translate(875 1429) scale(.82 1)">Hypertrophy of heart</text></g>
<g id="C-fn-aapc" class="fn"><ellipse cx="526" cy="1515" rx="274" ry="37"/><rect class="fx" x="278" y="1494" width="53" height="42"/><text class="xc" transform="translate(304.5 1526) scale(.82 1)">Fx:</text><text class="fc" transform="translate(338 1526) scale(.82 1)">Activation of antigen presenting cells</text></g>
<g id="C-fn-sas" class="fn"><ellipse cx="1343" cy="1579" rx="264" ry="37"/><rect class="fx" x="1117" y="1558" width="53" height="42"/><text class="xc" transform="translate(1143.5 1590) scale(.82 1)">Fx:</text><text class="fc" transform="translate(1177 1590) scale(.82 1)">Systemic autoimmune syndrome</text></g>
<g id="C-fn-hlv" class="fn"><ellipse cx="387" cy="1733" rx="250" ry="37"/><rect class="fx" x="194" y="1712" width="53" height="42"/><text class="xc" transform="translate(220.5 1744) scale(.82 1)">Fx:</text><text class="fc" transform="translate(254 1744) scale(.82 1)">Hypertrophy of left ventricle</text></g>
<g id="C-fn-cid" class="fn"><ellipse cx="1463" cy="1842" rx="256" ry="37"/><rect class="fx" x="1252" y="1821" width="53" height="42"/><text class="xc" transform="translate(1278.5 1853) scale(.82 1)">Fx:</text><text class="fc" transform="translate(1312 1853) scale(.82 1)">Chronic inflammatory disorder</text></g>
<g id="C-fn-ir" class="fn"><ellipse cx="366" cy="1915" rx="238" ry="37"/><rect class="fx" x="198" y="1894" width="53" height="42"/><text class="xc" transform="translate(224.5 1926) scale(.82 1)">Fx:</text><text class="fc" transform="translate(258 1926) scale(.82 1)">Inflammatory response</text></g>
<g id="C-fn-al" class="fn"><ellipse cx="389" cy="2148" rx="240" ry="38"/><rect class="fx" x="218" y="2127" width="53" height="42"/><text class="xc" transform="translate(244.5 2159) scale(.82 1)">Fx:</text><text class="fc" transform="translate(278 2159) scale(.82 1)">Activation of leukocytes</text></g>
<g id="C-fn-ap" class="fn"><ellipse cx="1463" cy="2135" rx="243" ry="38"/><rect class="fx" x="1286" y="2114" width="53" height="42"/><text class="xc" transform="translate(1312.5 2146) scale(.82 1)">Fx:</text><text class="fc" transform="translate(1346 2146) scale(.82 1)">Activation of phagocytes</text></g>
<g id="C-fn-hc" class="fn"><ellipse cx="1340" cy="2359" rx="260" ry="38"/><rect class="fx" x="1123" y="2338" width="53" height="42"/><text class="xc" transform="translate(1149.5 2370) scale(.82 1)">Fx:</text><text class="fc" transform="translate(1183 2370) scale(.82 1)">Hypertrophy of cardiomyocytes</text></g>
<g id="C-fn-imid" class="fn"><ellipse cx="786" cy="2460" rx="282" ry="38"/><rect class="fx" x="519" y="2439" width="53" height="42"/><text class="xc" transform="translate(545.5 2471) scale(.82 1)">Fx:</text><text class="fc" transform="translate(579 2471) scale(.82 1)">Immune mediated inflammatory disease</text></g>
</g>
<g id="C-genes">
<g id="C-AXL" class="gn"><rect x="837" y="1541.5" width="56" height="37" rx="10"/><text class="c" transform="translate(865 1571) scale(.7 1)">AXL</text></g>
<g id="C-CA13" class="gn"><rect x="927.5" y="1553.5" width="75" height="47" rx="10"/><text class="c" transform="translate(965 1588) scale(.7 1)">CA13</text></g>
<g id="C-TNFRSF14" class="gn"><rect x="648" y="1642" width="116" height="44" rx="10"/><text class="c" transform="translate(706 1675) scale(.7 1)">TNFRSF14</text></g>
<g id="C-TYMP" class="gn"><rect x="822" y="1654.5" width="74" height="33" rx="10"/><text class="c" transform="translate(859 1682) scale(.7 1)">TYMP</text></g>
<g id="C-CALCA" class="gn"><rect x="955.5" y="1654.5" width="83" height="33" rx="10"/><text class="c" transform="translate(997 1682) scale(.7 1)">CALCA</text></g>
<g id="C-CDH1" class="gn"><rect x="1084.5" y="1658.5" width="65" height="33" rx="10"/><text class="c" transform="translate(1117 1686) scale(.7 1)">CDH1</text></g>
<g id="C-ADM" class="gn"><rect x="742" y="1721" width="78" height="32" rx="10"/><text class="c" transform="translate(781 1748) scale(.7 1)">ADM</text></g>
<g id="C-CA14" class="gn"><rect x="983" y="1721.5" width="78" height="37" rx="10"/><text class="c" transform="translate(1022 1751) scale(.7 1)">CA14</text></g>
<g id="C-CA12" class="gn"><rect x="854.5" y="1753" width="71" height="48" rx="10"/><text class="c" transform="translate(890 1788) scale(.7 1)">CA12</text></g>
<g id="C-CD84" class="gn"><rect x="1134.5" y="1756" width="71" height="34" rx="10"/><text class="c" transform="translate(1170 1784) scale(.7 1)">CD84</text></g>
<g id="C-ACE2" class="gn"><rect x="732.5" y="1787.5" width="55" height="33" rx="10"/><text class="c" transform="translate(760 1815) scale(.7 1)">ACE2</text></g>
<g id="C-THBS2" class="gn"><rect x="611.5" y="1797.5" width="79" height="35" rx="10"/><text class="c" transform="translate(651 1826) scale(.7 1)">THBS2</text></g>
<g id="C-SRC" class="gn"><rect x="945.5" y="1801" width="73" height="36" rx="10"/><text class="c" transform="translate(982 1830) scale(.7 1)">SRC</text></g>
<g id="C-BANK1" class="gn"><rect x="840.5" y="1843.5" width="79" height="33" rx="10"/><text class="c" transform="translate(880 1871) scale(.7 1)">BANK1</text></g>
<g id="C-LCN2" class="gn"><rect x="627" y="1868.5" width="70" height="35" rx="10"/><text class="c" transform="translate(662 1897) scale(.7 1)">LCN2</text></g>
<g id="C-CTSD" class="gn"><rect x="1045" y="1882.5" width="58" height="35" rx="10"/><text class="c" transform="translate(1074 1911) scale(.7 1)">CTSD</text></g>
<g id="C-CPA1" class="gn"><rect x="1136.5" y="1873.5" width="57" height="33" rx="10"/><text class="c" transform="translate(1165 1901) scale(.7 1)">CPA1</text></g>
<g id="C-STK4" class="gn"><rect x="568" y="1976.5" width="80" height="35" rx="10"/><text class="c" transform="translate(608 2005) scale(.7 1)">STK4</text></g>
<g id="C-BID" class="gn"><rect x="1042.5" y="1972.5" width="67" height="39" rx="10"/><text class="c" transform="translate(1076 2003) scale(.7 1)">BID</text></g>
<g id="C-CTRC" class="gn"><rect x="1144.5" y="1956.5" width="73" height="41" rx="10"/><text class="c" transform="translate(1181 1988) scale(.7 1)">CTRC</text></g>
<g id="C-TNFSF13B" class="gn"><rect x="1246.5" y="1982" width="123" height="46" rx="10"/><text class="c" transform="translate(1308 2016) scale(.7 1)">TNFSF13B</text></g>
<g id="C-RARRES2" class="gn"><rect x="992" y="2057.5" width="136" height="45" rx="10"/><text class="c" transform="translate(1060 2091) scale(.7 1)">RARRES2</text></g>
<g id="C-DCN" class="gn"><rect class="dk" x="1153" y="2061" width="96" height="42" rx="10"/><text class="c" transform="translate(1201 2093) scale(.7 1)">DCN</text></g>
<g id="C-LEP" class="gn"><rect x="609" y="2072" width="70" height="38" rx="10"/><text class="c" transform="translate(644 2102) scale(.7 1)">LEP</text></g>
<g id="C-REN" class="gn"><rect x="687.5" y="2076" width="99" height="38" rx="10"/><text class="c" transform="translate(737 2106) scale(.7 1)">REN</text></g>
<g id="C-FABP4" class="gn"><rect x="909" y="2119" width="80" height="34" rx="10"/><text class="c" transform="translate(949 2147) scale(.7 1)">FABP4</text></g>
<g id="C-KLK10" class="gn"><rect x="780" y="2135.5" width="98" height="39" rx="10"/><text class="c" transform="translate(829 2166) scale(.7 1)">KLK10</text></g>
<g id="C-DPP4" class="gn"><rect x="1117.5" y="2161" width="99" height="38" rx="10"/><text class="c" transform="translate(1167 2191) scale(.7 1)">DPP4</text></g>
<g id="C-KLK6" class="gn"><rect x="683.5" y="2179" width="97" height="38" rx="10"/><text class="c" transform="translate(732 2209) scale(.7 1)">KLK6</text></g>
<g id="C-GAL" class="gn"><rect x="1037.5" y="2194" width="67" height="38" rx="10"/><text class="c" transform="translate(1071 2224) scale(.7 1)">GAL</text></g>
<g id="C-PRSS2" class="gn"><rect class="dk" x="545.5" y="2221.5" width="99" height="39" rx="10"/><text class="c" transform="translate(595 2252) scale(.7 1)">PRSS2</text></g>
<g id="C-EGFR" class="gn"><rect x="1114" y="2246.5" width="70" height="39" rx="10"/><text class="c" transform="translate(1149 2277) scale(.7 1)">EGFR</text></g>
<g id="C-KIT" class="gn"><rect x="882" y="2249.5" width="54" height="49" rx="10"/><text class="c" transform="translate(909 2285) scale(.7 1)">KIT</text></g>
<g id="C-GHRL" class="gn"><rect class="dk" x="990" y="2283" width="68" height="40" rx="10"/><text class="c" transform="translate(1024 2314) scale(.7 1)">GHRL</text></g>
<g id="C-IL7R" class="gn"><rect x="774" y="2265" width="54" height="50" rx="10"/><text class="c" transform="translate(801 2301) scale(.7 1)">IL7R</text></g>
<g id="C-MPO" class="gn"><rect x="661.5" y="2308.5" width="71" height="55" rx="10"/><text class="c" transform="translate(697 2347) scale(.7 1)">MPO</text></g>
<g id="C-IL6" class="gn"><rect x="842.5" y="2346" width="67" height="38" rx="10"/><text class="c" transform="translate(876 2376) scale(.7 1)">IL6</text></g>
<g id="C-FGR" class="gn"><rect x="959.5" y="2347" width="69" height="40" rx="10"/><text class="c" transform="translate(994 2378) scale(.7 1)">FGR</text></g>
</g>
<g id="C-Inflammation-of-organ" class="cc"><rect x="693" y="1930" width="328" height="92" rx="30"/><text class="co" transform="translate(857 1988) scale(.8 1)">Inflammation of organ</text></g>
</g>

<!-- ================= PANEL B ================= -->
<g id="panel-B">
<text class="pl" x="1990" y="149">B</text>
<text class="tt" x="3207" y="60" textLength="508" lengthAdjust="spacingAndGlyphs" xml:space="preserve">-log<tspan font-size="40" dy="15">10</tspan><tspan dy="-15"> (p-value)</tspan></text>
<g id="B-ticks">
<text class="tk" x="3214" y="126">0</text><text class="tk" x="3335" y="126">5</text><text class="tk" x="3487" y="126">10</text><text class="tk" x="3638" y="126">15</text><text class="tk" x="3787" y="126">20</text><text class="tk" x="3934" y="126">35</text>
</g>
<g id="B-bars">
<rect class="bar" x="3208" y="135" width="811" height="30"/>
<rect class="bar" x="3208" y="204.6" width="279" height="30"/>
<rect class="bar" x="3208" y="274.2" width="250" height="30"/>
<rect class="bar" x="3208" y="343.8" width="240" height="30"/>
<rect class="bar" x="3208" y="413.4" width="236" height="30"/>
<rect class="bar" x="3208" y="483" width="231" height="30"/>
<rect class="bar" x="3208" y="552.6" width="230" height="30"/>
<rect class="bar" x="3208" y="622.2" width="223" height="30"/>
<rect class="bar" x="3208" y="691.8" width="195" height="30"/>
<rect class="bar" x="3208" y="761.4" width="178" height="30"/>
<rect class="bar" x="3208" y="831" width="171" height="30"/>
<rect class="bar" x="3208" y="900.6" width="169" height="30"/>
<rect class="bar" x="3208" y="970.2" width="150" height="30"/>
<rect class="bar" x="3208" y="1039.8" width="111" height="30"/>
<rect class="bar" x="3208" y="1109.4" width="92" height="30"/>
<rect class="bar" x="3208" y="1179" width="62" height="30"/>
<rect class="bar" x="3208" y="1248.6" width="58" height="30"/>
<rect class="bar" x="3208" y="1318.2" width="54" height="30"/>
</g>
<line class="ax" x1="3208" y1="130" x2="3208" y2="1370"/>
<line class="rd" x1="3228" y1="146" x2="3228" y2="1354" stroke-dasharray="53 43.5"/>
<g id="B-labels">
<text class="lb" x="2478" y="166" textLength="658" lengthAdjust="spacingAndGlyphs">Myocardial dysfunction</text>
<text class="lb" x="2390" y="235.6" textLength="746" lengthAdjust="spacingAndGlyphs">Disorder of blood pressure</text>
<text class="lb" x="2868" y="305.2" textLength="268" lengthAdjust="spacingAndGlyphs">Infraction</text>
<text class="lb" x="2327" y="374.8" textLength="809" lengthAdjust="spacingAndGlyphs">Apoptosis of cardiomyocytes</text>
<text class="lb" x="2535" y="444.4" textLength="604" lengthAdjust="spacingAndGlyphs">Myocardial infarction</text>
<text class="lb" x="2760" y="514" textLength="376" lengthAdjust="spacingAndGlyphs">Hypertension</text>
<text class="lb" x="2149" y="583.6" textLength="990" lengthAdjust="spacingAndGlyphs">Early-onset cardiovascular disorder</text>
<text class="lb" x="2684" y="653.2" textLength="452" lengthAdjust="spacingAndGlyphs">Fibrosis of heart</text>
<text class="lb" x="2253" y="722.8" textLength="883" lengthAdjust="spacingAndGlyphs">Chronic cardiovascular disorder</text>
<text class="lb" x="2535" y="792.4" textLength="601" lengthAdjust="spacingAndGlyphs">Chronic heart disease</text>
<text class="lb" x="2543" y="862" textLength="596" lengthAdjust="spacingAndGlyphs">Stage II hypertension</text>
<text class="lb" x="2957" y="931.6" textLength="182" lengthAdjust="spacingAndGlyphs">Stroke</text>
<text class="lb" x="2396" y="1001.2" textLength="757" lengthAdjust="spacingAndGlyphs">Calcification of aortic valve</text>
<text class="lb" x="2465" y="1070.8" textLength="671" lengthAdjust="spacingAndGlyphs">Congestive heart failure</text>
<text class="lb" x="2461" y="1140.4" textLength="678" lengthAdjust="spacingAndGlyphs">Dilated cardiomyopathy</text>
<text class="lb" x="2517" y="1210" textLength="622" lengthAdjust="spacingAndGlyphs">Inflammation of heart</text>
<text class="lb" x="2322" y="1279.6" textLength="814" lengthAdjust="spacingAndGlyphs">Left ventricular heart disease</text>
<text class="lb" x="2214" y="1349.2" textLength="922" lengthAdjust="spacingAndGlyphs">Early-stage myocardial infarction</text>
</g>
</g>

<!-- ================= PANEL D ================= -->
<g id="panel-D">
<text class="pl" x="1994" y="1456">D</text>
<text class="tt" x="3203" y="1436" textLength="460" lengthAdjust="spacingAndGlyphs" xml:space="preserve" style="font-size:58px">-log<tspan font-size="38" dy="12">10</tspan><tspan dy="-12"> (p-value)</tspan></text>
<g id="D-ticks">
<text class="tk" x="3214" y="1494" style="font-size:41px">0</text><text class="tk" x="3336" y="1494" style="font-size:41px">5</text><text class="tk" x="3487" y="1494" style="font-size:41px">10</text><text class="tk" x="3637" y="1494" style="font-size:41px">15</text><text class="tk" x="3786" y="1494" style="font-size:41px">20</text>
</g>
<g id="D-bars">
<rect class="bar" x="3208" y="1507" width="558" height="40"/>
<rect class="bar" x="3208" y="1603.1" width="487" height="40"/>
<rect class="bar" x="3208" y="1699.2" width="383" height="40"/>
<rect class="bar" x="3208" y="1795.3" width="333" height="40"/>
<rect class="bar" x="3208" y="1891.4" width="275" height="40"/>
<rect class="bar" x="3208" y="1987.5" width="275" height="40"/>
<rect class="bar" x="3208" y="2083.6" width="256" height="40"/>
<rect class="bar" x="3208" y="2179.7" width="145" height="40"/>
<rect class="bar" x="3208" y="2275.8" width="145" height="40"/>
<rect class="bar" x="3208" y="2371.9" width="145" height="40"/>
</g>
<line class="ax" x1="3208" y1="1500" x2="3208" y2="2440"/>
<line class="rd" x1="3228" y1="1515" x2="3228" y2="2435" stroke-dasharray="54 42.2"/>
<g id="D-labels">
<text class="ld" x="2383" y="1557" textLength="773" lengthAdjust="spacingAndGlyphs">Chronic inflammatory disorder</text>
<text class="ld" x="2104" y="1653.1" textLength="1049" lengthAdjust="spacingAndGlyphs">Immunes-mediated inflammatory disease</text>
<text class="ld" x="2571" y="1749.2" textLength="585" lengthAdjust="spacingAndGlyphs">Inflammatory response</text>
<text class="ld" x="2340" y="1845.3" textLength="826" lengthAdjust="spacingAndGlyphs">Systemic autoimmune syndrome</text>
<text class="ld" x="2535" y="1941.4" textLength="621" lengthAdjust="spacingAndGlyphs" xml:space="preserve">Activation  of leukocytes</text>
<text class="ld" x="2532" y="2037.5" textLength="621" lengthAdjust="spacingAndGlyphs">Activation of phagocytes</text>
<text class="ld" x="2231" y="2133.6" textLength="935" lengthAdjust="spacingAndGlyphs">Activation of antigen-presenting cells</text>
<text class="ld" x="2361" y="2229.7" textLength="792" lengthAdjust="spacingAndGlyphs">Hypertrophy of cardiomyocytes</text>
<text class="ld" x="2621" y="2325.8" textLength="535" lengthAdjust="spacingAndGlyphs">Hypertrophy of heart</text>
<text class="ld" x="2439" y="2421.9" textLength="714" lengthAdjust="spacingAndGlyphs">Hypertrophy of left ventricle</text>
</g>
</g>
</svg>
